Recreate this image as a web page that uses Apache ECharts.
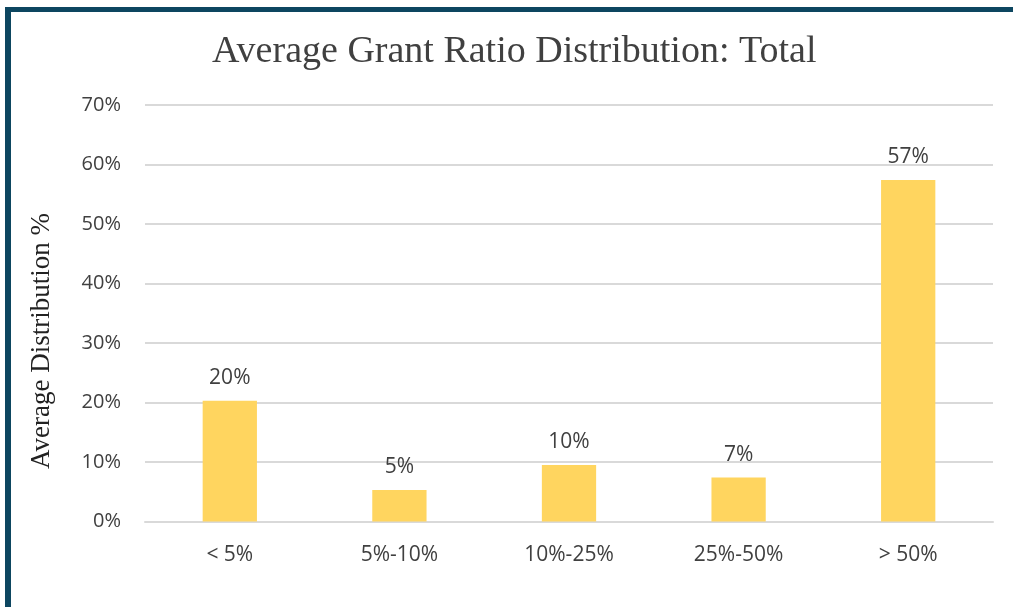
<!DOCTYPE html>
<html lang="en">
<head>
    <meta charset="UTF-8">
    <title>Average Grant Ratio Distribution: Total</title>
    <script src="https://cdn.jsdelivr.net/npm/echarts@6/dist/echarts.min.js"></script>
    <style>
        body {
            margin: 0;
            padding: 0;
            background: #fff;
        }

        #chartContainer {
            position: absolute;
            left: 0;
            top: 0;
            width: 1013px;
            height: 607px;
        }

        #frame {
            position: absolute;
            left: 5px;
            top: 7px;
            width: 1100px;
            height: 700px;
            border-top: 5px solid #0d4660;
            border-left: 6px solid #0d4660;
            pointer-events: none;
        }
    </style>
</head>
<body>
    <div id="chartContainer"></div>
    <div id="frame"></div>

    <script>
        // data
        var categories = ['< 5%', '5%-10%', '10%-25%', '25%-50%', '> 50%'];
        var distribution = [20.3, 5.3, 9.5, 7.4, 57.4];
        var yTicks = [0, 10, 20, 30, 40, 50, 60, 70];

        var chartDom = document.getElementById('chartContainer');
        var myChart = echarts.init(chartDom);
        var option;

        var tickColor = '#404040';
        var sans = '"Open Sans", "Noto Sans", sans-serif';
        var serif = '"Liberation Serif", "DejaVu Serif", serif';

        option = {
            animation: false,
            title: {
                text: 'Average Grant Ratio Distribution: Total',
                left: 207,
                top: 28,
                textStyle: {
                    fontFamily: serif,
                    fontSize: 38,
                    fontWeight: 'normal',
                    color: '#404040'
                }
            },
            grid: {
                left: 145,
                right: 20,
                top: 105,
                bottom: 85.5
            },
            xAxis: {
                type: 'category',
                data: categories,
                axisTick: { show: false },
                axisLine: {
                    lineStyle: { color: '#d9d9d9', width: 2 }
                },
                axisLabel: {
                    color: tickColor,
                    fontFamily: sans,
                    fontSize: 21,
                    margin: 23
                }
            },
            yAxis: {
                type: 'value',
                min: yTicks[0],
                max: yTicks[yTicks.length - 1],
                interval: 10,
                axisLine: { show: false },
                axisTick: { show: false },
                splitLine: {
                    lineStyle: { color: '#d9d9d9', width: 2 }
                },
                axisLabel: {
                    color: tickColor,
                    fontFamily: sans,
                    fontSize: 20,
                    margin: 24,
                    formatter: function (v) { return v + '%'; }
                }
            },
            graphic: [
                {
                    type: 'text',
                    x: 42,
                    y: 341,
                    rotation: Math.PI / 2,
                    style: {
                        text: 'Average Distribution %',
                        fontFamily: serif,
                        fontSize: 27,
                        fill: '#222',
                        textAlign: 'center',
                        textVerticalAlign: 'middle'
                    }
                }
            ],
            series: [
                {
                    name: 'Average Distribution',
                    type: 'bar',
                    data: distribution,
                    barWidth: '32%',
                    itemStyle: { color: '#ffd55f' },
                    label: {
                        show: true,
                        position: 'top',
                        distance: 12,
                        color: tickColor,
                        fontFamily: sans,
                        fontSize: 21,
                        formatter: function (p) { return Math.round(p.value) + '%'; }
                    }
                }
            ]
        };

        option && myChart.setOption(option);
    </script>
</body>
</html>
